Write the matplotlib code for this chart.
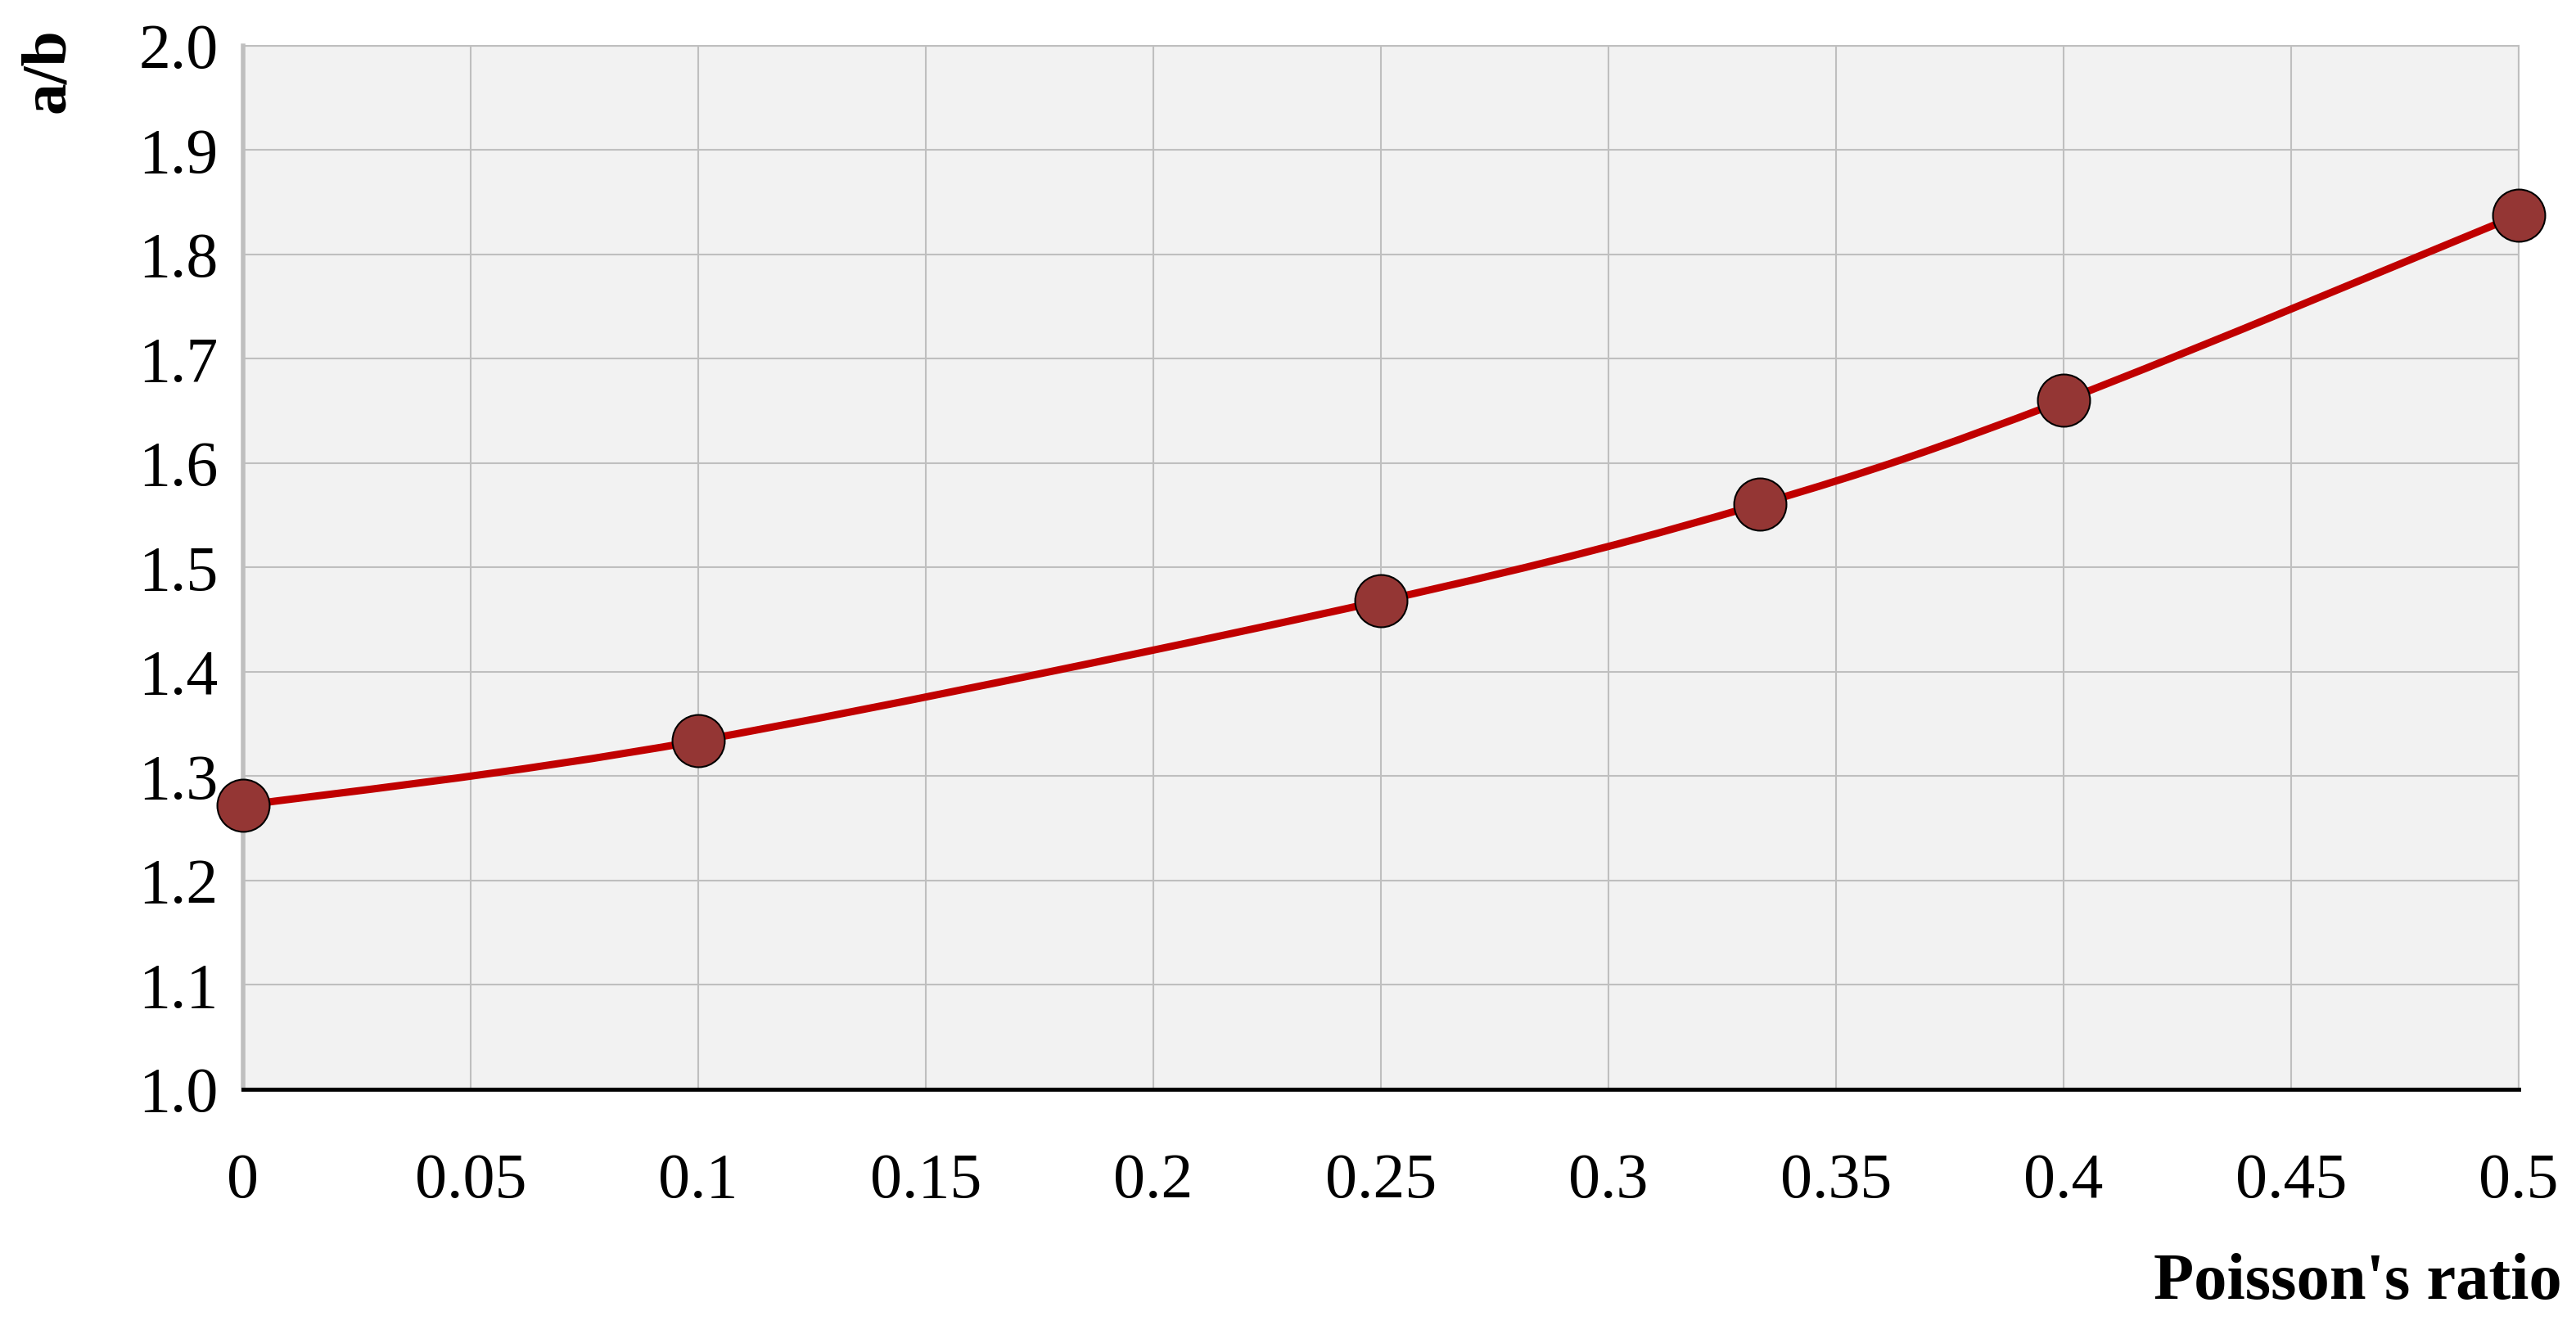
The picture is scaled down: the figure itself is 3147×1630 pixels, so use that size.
import matplotlib.pyplot as plt
from matplotlib.path import Path
from matplotlib.patches import PathPatch

# data
poisson = [0.0, 0.1, 0.25, 1 / 3, 0.4, 0.5]
ratio_ab = [1.272, 1.334, 1.468, 1.561, 1.660, 1.838]

x_ticks = [0, 0.05, 0.1, 0.15, 0.2, 0.25, 0.3, 0.35, 0.4, 0.45, 0.5]
x_tick_labels = ["0", "0.05", "0.1", "0.15", "0.2", "0.25", "0.3", "0.35", "0.4", "0.45", "0.5"]
y_ticks = [1.0, 1.1, 1.2, 1.3, 1.4, 1.5, 1.6, 1.7, 1.8, 1.9, 2.0]
y_tick_labels = ["%.1f" % v for v in y_ticks]

line_col = "#C00000"
mark_col = "#943634"
grid_col = "#BFBFBF"

plt.rcParams["font.family"] = ["Liberation Serif", "DejaVu Serif"]


def smooth_path(xs, ys, t=1 / 6.0):
    # excel-style smoothed line: bezier segments through the points
    verts = [(xs[0], ys[0])]
    codes = [Path.MOVETO]
    n = len(xs)
    for i in range(n - 1):
        x0, y0 = xs[max(i - 1, 0)], ys[max(i - 1, 0)]
        x1, y1 = xs[i], ys[i]
        x2, y2 = xs[i + 1], ys[i + 1]
        x3, y3 = xs[min(i + 2, n - 1)], ys[min(i + 2, n - 1)]
        c1 = (x1 + (x2 - x0) * t, y1 + (y2 - y0) * t)
        c2 = (x2 - (x3 - x1) * t, y2 - (y3 - y1) * t)
        verts += [c1, c2, (x2, y2)]
        codes += [Path.CURVE4] * 3
    return Path(verts, codes)


fig = plt.figure(figsize=(31.47, 16.30), dpi=100)
ax = fig.add_axes([297 / 3147, 1 - 1331 / 1630, (3077 - 297) / 3147, (1331 - 56) / 1630])
ax.set_facecolor("#F2F2F2")

ax.add_patch(PathPatch(smooth_path(poisson, ratio_ab), fill=False, edgecolor=line_col,
                       lw=6.5, capstyle="round", zorder=3))
ax.plot(poisson, ratio_ab, ls="none", marker="o", ms=46, mfc=mark_col, mec="black",
        mew=1.5, zorder=4, clip_on=False)

ax.set_xlim(0, 0.5)
ax.set_ylim(1.0, 2.0)
ax.set_xticks(x_ticks)
ax.set_xticklabels(x_tick_labels)
ax.set_yticks(y_ticks)
ax.set_yticklabels(y_tick_labels)
ax.tick_params(axis="both", length=0, labelsize=56)
ax.tick_params(axis="x", pad=56)
ax.tick_params(axis="y", pad=22)

ax.grid(True, color=grid_col, lw=1.5)
ax.set_axisbelow(True)
for s in ["top", "right", "left"]:
    ax.spines[s].set_color(grid_col)
    ax.spines[s].set_linewidth(1.5)
ax.spines["left"].set_linewidth(4)
ax.spines["bottom"].set_color("black")
ax.spines["bottom"].set_linewidth(3.5)

fig.text(3130 / 3147, 1 - 1567 / 1630, "Poisson's ratio", fontsize=58, fontweight="bold",
         ha="right", va="center")
fig.text(60 / 3147, 1 - 86 / 1630, "a/b", fontsize=56, fontweight="bold", rotation=90,
         ha="center", va="center")

fig.savefig("out.png", dpi=100, facecolor="white")
